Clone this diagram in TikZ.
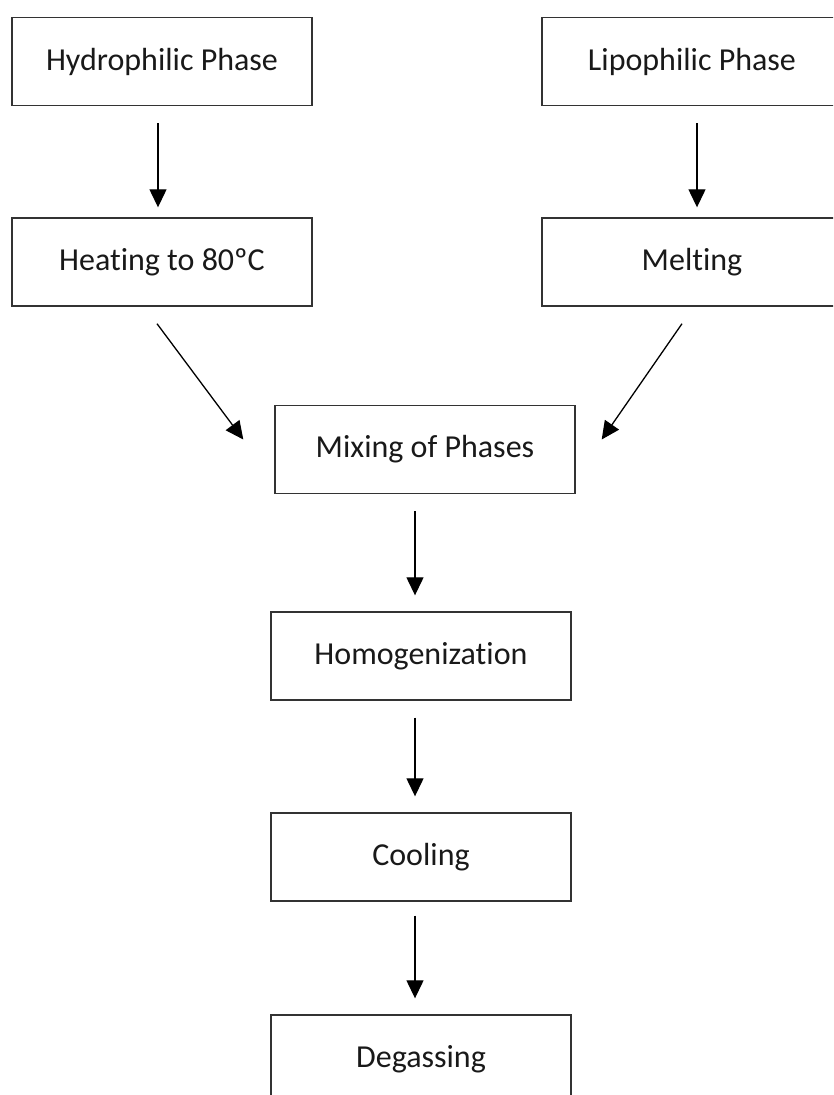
\documentclass[tikz,border=0pt]{standalone}
\usepackage{fontspec}
\setmainfont[Ligatures = NoCommon]{Carlito}
\usetikzlibrary{arrows.meta,positioning}

\begin{document}
\begin{tikzpicture}[x = 1pt, y = -1pt,
  stage/.style = {draw = black!80, line width = 1.4pt, minimum width = 300pt, minimum height = 88pt, inner sep = 0pt, font = \fontsize{32}{38}\selectfont, text = black!90},
  cutstage/.style = {stage, minimum width = 340pt},
  flow/.style = {-{Triangle[width = 17pt, length = 18pt]}, line width = 1.3pt}]
\useasboundingbox (0,0) rectangle (833,1095);
\clip (0,0) rectangle (833,1095);
\node[stage] (hydro) at (162,61.5) {Hydrophilic Phase};
\node[cutstage] (lipo) at (712,61.5) {\hspace*{-40pt}Lipophilic Phase};
\node[stage] (heat) at (162,262) {Heating to 80ºC};
\node[cutstage] (melt) at (712,262) {\hspace*{-40pt}Melting};
\node[stage] (mix) at (425,449.5) {Mixing of Phases};
\node[stage] (homog) at (421,656) {Homogenization};
\node[stage] (cool) at (421,857) {Cooling};
\node[stage] (degas) at (421,1059) {Degassing};
% two phases
\draw[flow, shorten <= 17pt, shorten >= 10pt] ([xshift = -4pt]hydro.south) -- ([xshift = -4pt]heat.north);
\draw[flow, shorten <= 17pt, shorten >= 10pt] ([xshift = -15pt]lipo.south) -- ([xshift = -15pt]melt.north);
\draw[flow] ([shift = {(-5pt,-17pt)}]heat.south) -- ([shift = {(-31pt,10pt)}]mix.west);
\draw[flow] ([shift = {(-30pt,-17pt)}]melt.south) -- ([shift = {(26pt,10pt)}]mix.east);
% process
\draw[flow, shorten <= 17pt, shorten >= 16pt] ([xshift = -10pt]mix.south) -- ([xshift = -6pt]homog.north);
\draw[flow, shorten <= 17pt, shorten >= 16pt] ([xshift = -6pt]homog.south) -- ([xshift = -6pt]cool.north);
\draw[flow, shorten <= 14pt, shorten >= 16pt] ([xshift = -6pt]cool.south) -- ([xshift = -6pt]degas.north);
\end{tikzpicture}
\end{document}
